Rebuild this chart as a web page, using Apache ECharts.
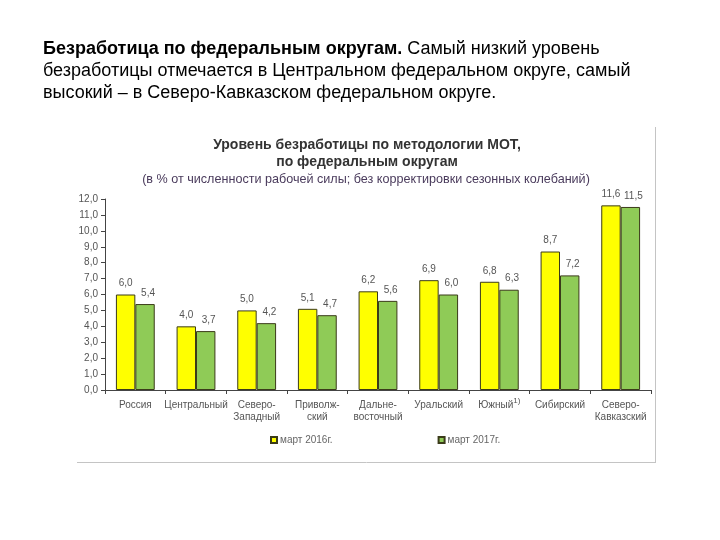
<!DOCTYPE html>
<html><head><meta charset="utf-8">
<script src="https://cdn.jsdelivr.net/npm/echarts@6/dist/echarts.min.js"></script>
<style>html,body{margin:0;padding:0;background:#fff}#c{width:720px;height:540px}</style>
</head><body><div id="c"></div>
<script>
const categories = ['Россия','Центральный','Северо-\nЗападный','Приволж-\nский','Дальне-\nвосточный','Уральский','Южный','Сибирский','Северо-\nКавказский'];
const march2016 = [6.0, 4.0, 5.0, 5.1, 6.2, 6.9, 6.8, 8.7, 11.6];
const march2017 = [5.4, 3.7, 4.2, 4.7, 5.6, 6.0, 6.3, 7.2, 11.5];
const seriesNames = ['март 2016г.', 'март 2017г.'];

const fmt = v => v.toFixed(1).replace('.', ',');
const chart = echarts.init(document.getElementById('c'), null, {renderer:'canvas'});
const font = 'Liberation Sans, Arial, sans-serif';
chart.setOption({
  animation: false,
  textStyle: {fontFamily: font},
  title: [{
    left: 38, top: 33,
    text: '{b|Безработица по федеральным округам.} Самый низкий уровень\nбезработицы отмечается в Центральном федеральном округе, самый\nвысокий – в Северо-Кавказском федеральном округе.',
    textStyle: {fontSize: 18, fontWeight: 'normal', color: '#000', lineHeight: 22, fontFamily: font,
      rich: {b: {fontSize: 18, fontWeight: 'bold', color: '#000', fontFamily: font, lineHeight: 22}}}
  },{
    left: 362, top: 132, textAlign: 'center',
    text: 'Уровень безработицы по методологии МОТ,\nпо федеральным округам',
    textStyle: {fontSize: 14, fontWeight: 'bold', color: '#333', lineHeight: 17, fontFamily: font}
  },{
    left: 361, top: 168, textAlign: 'center',
    text: '(в % от численности рабочей силы; без корректировки сезонных колебаний)',
    textStyle: {fontSize: 12.6, fontWeight: 'normal', color: '#4a3b5c', fontFamily: font}
  }],
  graphic: [
    {type:'line', shape:{x1:655.5, y1:127, x2:655.5, y2:462}, style:{stroke:'#c4c4c4', lineWidth:1}},
    {type:'line', shape:{x1:77, y1:462.5, x2:656, y2:462.5}, style:{stroke:'#c4c4c4', lineWidth:1}}
  ],
  legend: {
    data: seriesNames, left: 265, top: 430, itemGap: 105,
    itemWidth: 6, itemHeight: 6, icon: 'rect',
    textStyle: {fontSize: 10, color: '#666', padding: [0,0,0,-2]}
  },
  grid: {left: 105, right: 69, top: 199, bottom: 150},
  xAxis: {
    type: 'category', data: categories,
    axisLine: {lineStyle: {color: '#444'}},
    axisTick: {show: true, length: 4, lineStyle: {color: '#444'}},
    axisLabel: {interval: 0, fontSize: 10, color: '#555', margin: 9, lineHeight: 12,
      formatter: v => v === 'Южный' ? 'Южный{s|1)}' : v,
      rich: {s: {fontSize: 8, color: '#555', padding: [0,0,9,0]}}}
  },
  yAxis: {
    type: 'value', min: 0, max: 12, interval: 1,
    axisLine: {show: true, lineStyle: {color: '#444'}},
    axisTick: {show: true, length: 4, lineStyle: {color: '#444'}},
    splitLine: {show: false},
    axisLabel: {fontSize: 10, color: '#555', margin: 7, formatter: v => fmt(v)}
  },
  series: [{
    name: seriesNames[0], type: 'bar', data: march2016,
    barGap: '0%', barCategoryGap: '36%',
    itemStyle: {color: '#ffff00', borderColor: '#3b3b1a', borderWidth: 1},
    label: {show: true, position: 'top', distance: 6, fontSize: 10, color: '#555', formatter: p => fmt(p.value)}
  },{
    name: seriesNames[1], type: 'bar', data: march2017,
    itemStyle: {color: '#8fcb57', borderColor: '#3b3b1a', borderWidth: 1},
    label: {show: true, position: 'top', distance: 6, offset: [3,0], fontSize: 10, color: '#555', formatter: p => fmt(p.value)}
  }]
});
</script></body></html>
